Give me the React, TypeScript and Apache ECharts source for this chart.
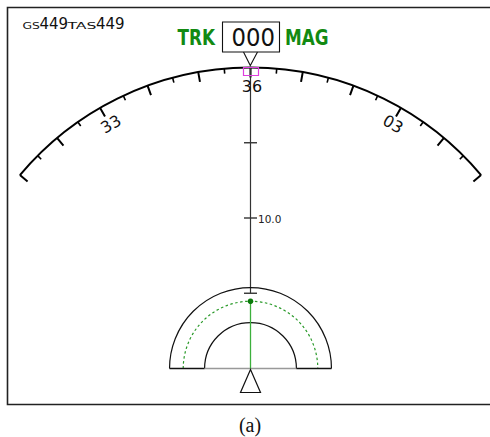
import React, { useEffect, useRef } from 'react';
import * as echarts from 'echarts';

// ---- data ----
const headingLabels = ['33', '36', '03'];
const headingLabelAngles = [-30, 0, 30];
const headingMin = -50;
const headingMax = 50;
const headingMajorStep = 10;
const compassRangeNm = 20;
const labelRadiusNm = 18.75;
const rangeTicksNm = [5, 10, 15];
const rangeTickLabels = ['', '10.0', ''];
const rangeLineNm = [5, 20];
const solidRingsNm = [5.38, 3.05];
const dashedRingNm = 4.47;
const groundSpeed = '449';
const trueAirspeed = '449';
const trackValue = '000';
const trackLeft = 'TRK';
const trackRight = 'MAG';
const caption = '(a)';

const CX = 250.5;
const CY = 368.5;
const FONT = '"DejaVu Sans", Verdana, sans-serif';
const GREEN = '#128a12';

export default function App() {
  const ref = useRef<HTMLDivElement>(null);
  useEffect(() => {
    if (!ref.current) return;
    const chart = echarts.init(ref.current, null, { renderer: 'svg' });

    const option: any = {
      animation: false,
      backgroundColor: '#fff',
      polar: { center: [CX, CY], radius: 301 },
      angleAxis: {
        type: 'value',
        min: headingMin,
        max: headingMax,
        interval: headingMajorStep,
        startAngle: 90 - headingMin,
        endAngle: 90 - headingMax,
        clockwise: true,
        axisLine: { show: true, lineStyle: { color: '#000', width: 2 } },
        axisTick: { show: true, inside: true, length: 10, lineStyle: { color: '#000', width: 2 } },
        minorTick: { show: true, splitNumber: 2, length: 5, lineStyle: { color: '#000', width: 1.6 } },
        axisLabel: { show: false },
        splitLine: { show: false },
        minorSplitLine: { show: false },
        silent: true,
      },
      radiusAxis: {
        type: 'value',
        min: 0,
        max: compassRangeNm,
        show: false,
        splitLine: { show: false },
      },
      series: [
        {
          type: 'line',
          coordinateSystem: 'polar',
          data: rangeLineNm.map((r) => [r, 0]),
          showSymbol: false,
          symbol: 'none',
          lineStyle: { color: '#333', width: 1.2 },
          silent: true,
          z: 3,
        },
        {
          type: 'custom',
          coordinateSystem: 'polar',
          silent: true,
          z: 4,
          data: rangeTicksNm.map((r, i) => [r, 0, i]),
          renderItem: (params: any, api: any) => {
            const idx = api.value(2);
            const p = api.coord([api.value(0), api.value(1)]);
            const children: any[] = [
              {
                type: 'line',
                shape: { x1: p[0] - 6.5, y1: p[1], x2: p[0] + 6.5, y2: p[1] },
                style: { stroke: '#333', lineWidth: 1.4 },
              },
            ];
            const lbl = rangeTickLabels[idx];
            if (lbl) {
              children.push({
                type: 'text',
                x: p[0] + 7.5,
                y: p[1] + 0.5,
                style: { text: lbl, fontSize: 10.5, fontFamily: FONT, fill: '#222', align: 'left', verticalAlign: 'middle' },
              });
            }
            return { type: 'group', children };
          },
        },
        {
          type: 'custom',
          coordinateSystem: 'polar',
          silent: true,
          z: 5,
          data: headingLabelAngles.map((a, i) => [labelRadiusNm, a, i]),
          renderItem: (params: any, api: any) => {
            const a = api.value(1);
            const p = api.coord([api.value(0), a]);
            return {
              type: 'text',
              x: p[0] + 1.5,
              y: p[1],
              rotation: (-a * Math.PI) / 180,
              style: {
                text: headingLabels[api.value(2)],
                fontSize: 16,
                fontFamily: FONT,
                fill: '#111',
                align: 'center',
                verticalAlign: 'middle',
              },
            };
          },
        },
        {
          type: 'custom',
          coordinateSystem: 'polar',
          silent: true,
          z: 6,
          data: [[0, 0]],
          renderItem: (params: any, api: any) => {
            const c = api.coord([0, 0]);
            const px = (nm: number) => c[1] - api.coord([nm, 0])[1];
            const rOut = px(solidRingsNm[0]);
            const rIn = px(solidRingsNm[1]);
            const rDash = px(dashedRingNm);
            const cx = c[0];
            const cy = c[1];
            return {
              type: 'group',
              children: [
                {
                  type: 'arc',
                  shape: { cx, cy, r: rOut, startAngle: Math.PI, endAngle: Math.PI * 2, clockwise: true },
                  style: { stroke: '#111', lineWidth: 1.2, fill: 'none' },
                },
                {
                  type: 'arc',
                  shape: { cx, cy, r: rIn, startAngle: Math.PI, endAngle: Math.PI * 2, clockwise: true },
                  style: { stroke: '#111', lineWidth: 1.2, fill: 'none' },
                },
                {
                  type: 'arc',
                  shape: { cx, cy, r: rDash, startAngle: Math.PI, endAngle: Math.PI * 2, clockwise: true },
                  style: { stroke: '#2a9a2a', lineWidth: 1.2, fill: 'none', lineDash: [2.5, 2.5] },
                },
                {
                  type: 'line',
                  shape: { x1: cx - rOut, y1: cy, x2: cx - rIn, y2: cy },
                  style: { stroke: '#111', lineWidth: 1.3 },
                },
                {
                  type: 'line',
                  shape: { x1: cx - rIn, y1: cy, x2: cx + rIn, y2: cy },
                  style: { stroke: '#999', lineWidth: 1.3 },
                },
                {
                  type: 'line',
                  shape: { x1: cx + rIn, y1: cy, x2: cx + rOut, y2: cy },
                  style: { stroke: '#111', lineWidth: 1.3 },
                },
                {
                  type: 'line',
                  shape: { x1: cx, y1: cy, x2: cx, y2: cy - rDash },
                  style: { stroke: '#3cb03c', lineWidth: 1.3 },
                },
                {
                  type: 'circle',
                  shape: { cx, cy: cy - rDash, r: 2.8 },
                  style: { fill: '#0a7a0a' },
                },
                {
                  type: 'polygon',
                  shape: { points: [[cx, cy + 1], [cx - 10, cy + 24], [cx + 10, cy + 24]] },
                  style: { stroke: '#111', lineWidth: 1.2, fill: '#fff' },
                },
              ],
            };
          },
        },
      ],
      graphic: [
        {
          type: 'polyline',
          silent: true,
          shape: { points: [[495, 7.5], [7.5, 7.5], [7.5, 404.5], [495, 404.5]] },
          style: { stroke: '#222', lineWidth: 1.6, fill: 'none' },
        },
        {
          type: 'text', silent: true, x: 22.5, y: 26, scaleX: 1.3,
          style: { text: 'GS', fontSize: 9.5, fontFamily: FONT, fill: '#111', align: 'left', verticalAlign: 'middle' },
        },
        {
          type: 'text', silent: true, x: 39.5, y: 24,
          style: { text: groundSpeed, fontSize: 15, fontFamily: FONT, fill: '#111', align: 'left', verticalAlign: 'middle' },
        },
        {
          type: 'text', silent: true, x: 67.5, y: 26, scaleX: 1.65,
          style: { text: 'TAS', fontSize: 9.5, fontFamily: FONT, fill: '#111', align: 'left', verticalAlign: 'middle' },
        },
        {
          type: 'text', silent: true, x: 96, y: 24,
          style: { text: trueAirspeed, fontSize: 15, fontFamily: FONT, fill: '#111', align: 'left', verticalAlign: 'middle' },
        },
        {
          type: 'text', silent: true, x: 177.5, y: 37.8, scaleX: 0.82,
          style: { text: trackLeft, fontSize: 20.5, fontWeight: 'bold', fontFamily: FONT, fill: GREEN, align: 'left', verticalAlign: 'middle' },
        },
        {
          type: 'text', silent: true, x: 285, y: 37.8, scaleX: 0.82,
          style: { text: trackRight, fontSize: 20.5, fontWeight: 'bold', fontFamily: FONT, fill: GREEN, align: 'left', verticalAlign: 'middle' },
        },
        {
          type: 'rect', silent: true,
          shape: { x: 222.5, y: 22, width: 57, height: 30 },
          style: { stroke: '#111', lineWidth: 1.1, fill: '#fff' },
        },
        {
          type: 'text', silent: true, x: 253.3, y: 37.6, scaleX: 0.89,
          style: { text: trackValue, fontSize: 25.6, fontFamily: FONT, fill: '#111', align: 'center', verticalAlign: 'middle' },
        },
        {
          type: 'polyline', silent: true,
          shape: { points: [[243.5, 52], [250.3, 65.5], [257.5, 52]] },
          style: { stroke: '#111', lineWidth: 1.1, fill: 'none' },
        },
        {
          type: 'rect', silent: true, z: 100,
          shape: { x: 243.5, y: 67.5, width: 15, height: 8 },
          style: { stroke: '#e040e0', lineWidth: 1.2, fill: 'none' },
        },
        {
          type: 'text', silent: true, x: 250, y: 425,
          style: { text: caption, fontSize: 20, fontFamily: '"Liberation Serif", "Times New Roman", serif', fill: '#111', align: 'center', verticalAlign: 'middle' },
        },
      ],
    };
    chart.setOption(option);
    return () => chart.dispose();
  }, []);

  return (
    <div
      ref={ref}
      style={{ position: 'fixed', left: 0, top: 0, width: 490, height: 437, background: '#fff' }}
    />
  );
}
